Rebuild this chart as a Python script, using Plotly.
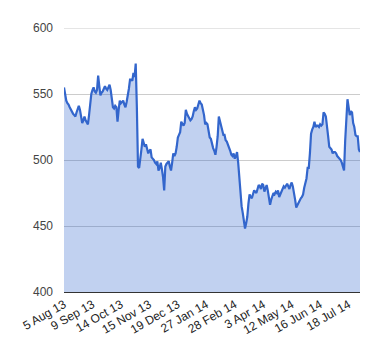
import plotly.graph_objects as go

values = [
    555, 548, 545, 543, 542, 540, 538, 537, 535, 534,
    533, 536, 539, 541, 538, 532, 528, 530, 533, 530,
    528, 527, 534, 545, 550, 553, 555, 552, 551, 553,
    564, 556, 549, 551, 552, 554, 556, 554, 553, 555,
    557, 553, 548, 540, 539, 541, 540, 529, 538, 545,
    543, 544, 545, 542, 540, 544, 548, 554, 561, 561,
    560, 566, 563, 573, 540, 495, 494, 500, 508, 516,
    513, 510, 512, 508, 505, 507, 508, 502, 501, 500,
    498, 497, 499, 492, 494, 498, 493, 487, 477, 495,
    497, 498, 499, 495, 492, 498, 505, 503, 505, 510,
    517, 519, 521, 529, 527, 526, 528, 538, 535, 533,
    532, 530, 531, 533, 537, 540, 538, 539, 542, 545,
    543, 542, 538, 534, 527, 528, 527, 522, 517, 516,
    512, 509, 507, 504, 510, 518, 533, 530, 526, 522,
    519, 519, 515, 514, 512, 510, 507, 504, 503, 505,
    501, 503, 506, 498, 485, 470, 465, 460, 455, 448,
    452, 457, 467, 474, 472, 471, 474, 477, 476, 475,
    478, 481, 480, 478, 482, 481, 476, 479, 481, 477,
    472, 466, 470, 473, 475, 474, 476, 475, 477, 472,
    474, 476, 478, 480, 479, 481, 482, 480, 478, 481,
    483, 480, 476, 470, 464, 466, 468, 469, 471, 472,
    474, 479, 483, 486, 494, 494, 505, 520, 523, 525,
    529, 525, 526, 526, 525, 527, 526, 527, 536, 535,
    533, 527, 518, 510, 509, 508, 505, 506, 506, 505,
    503, 502, 501, 500, 498, 495, 492, 515, 535, 546,
    540, 534, 537, 536, 528, 525, 519, 518, 518, 508,
    506,
]

tick_labels = ["5 Aug 13", "9 Sep 13", "14 Oct 13", "15 Nov 13", "19 Dec 13",
               "27 Jan 14", "28 Feb 14", "3 Apr 14", "12 May 14", "16 Jun 14",
               "18 Jul 14"]
tick_step = 25
y_ticks = [400, 450, 500, 550, 600]

x = list(range(len(values)))
tick_vals = [i * tick_step for i in range(len(tick_labels))]

fig = go.Figure()
fig.add_trace(go.Scatter(
    x=x, y=values, mode="lines",
    line=dict(color="#3366cc", width=2.2),
    fill="tozeroy", fillcolor="rgba(51,102,204,0.3)",
    hoverinfo="skip",
))

# top gridline (at the range edge)
fig.add_shape(type="line", xref="paper", x0=0, x1=1, yref="y", y0=y_ticks[-1], y1=y_ticks[-1],
              line=dict(color="#ccc", width=1), layer="below")

fig.update_layout(
    width=372, height=352,
    margin=dict(l=52, r=20, t=20, b=68),
    paper_bgcolor="white", plot_bgcolor="white",
    showlegend=False,
    font=dict(family="Liberation Sans, Arial, sans-serif", size=12, color="#444"),
    xaxis=dict(
        range=[0, len(values) - 1],
        tickvals=tick_vals, ticktext=tick_labels,
        tickangle=-30, showgrid=False, zeroline=False,
        showline=True, linecolor="#333", linewidth=1,
        ticks="", ticklabelstandoff=0,
        tickfont=dict(size=12, color="#222"),
    ),
    yaxis=dict(
        range=[400, 600], tickvals=y_ticks,
        showgrid=True, gridcolor="#ccc", gridwidth=1,
        zeroline=False, showline=False, ticks="",
        ticklabelstandoff=10,
        tickfont=dict(size=12, color="#444"),
    ),
)

fig.write_html("out.html")
